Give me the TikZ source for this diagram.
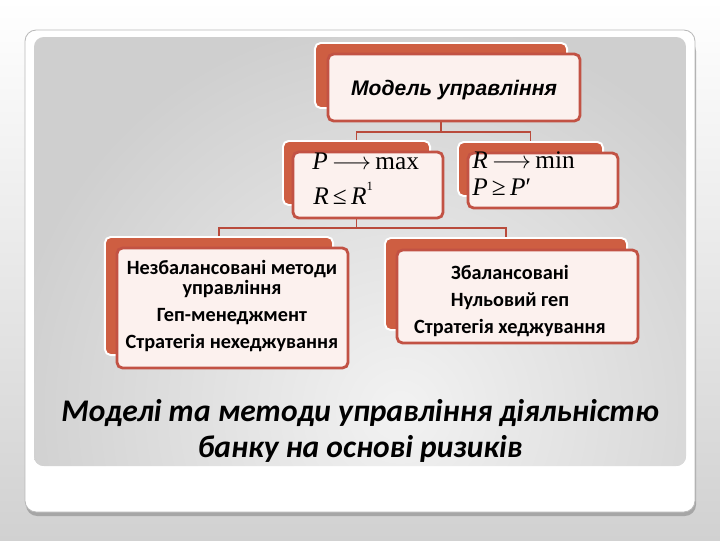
\documentclass[tikz,border=0pt]{standalone}
\usepackage{fontspec}
\setmainfont{Carlito}
\newfontfamily\arialf{Liberation Sans}
\newfontfamily\timesf{Liberation Serif}
\definecolor{backred}{RGB}{206,94,66}
\definecolor{frontfill}{RGB}{252,241,238}
\definecolor{frontdraw}{RGB}{194,82,68}
\definecolor{linkc}{RGB}{185,75,60}
\tikzset{
  backbox/.style={draw=white, line width=1.4pt, fill=backred, rounded corners=4pt, inner sep=0pt},
  frontbox/.style={draw=frontdraw, line width=2pt, fill=frontfill, rounded corners=4pt, inner sep=0pt},
  link/.style={draw=linkc, line width=1.4pt},
  boxtext/.style={font=\fontsize{14.4}{17}\selectfont\bfseries, inner sep=0pt, anchor=base},
  mathtext/.style={font=\timesf\fontsize{18}{18}\selectfont, inner sep=0pt, anchor=base west},
  toptext/.style={font=\arialf\fontsize{15}{17}\selectfont\bfseries\itshape, inner sep=0pt, anchor=base},
  titletext/.style={font=\fontsize{22.4}{26}\selectfont\bfseries\itshape, inner sep=0pt, anchor=base}
}
\newcommand{\myarrow}{\,\(\longrightarrow\)\,}
\begin{document}
\begin{tikzpicture}[x=0.025cm,y=-0.025cm]
\useasboundingbox (0,0) rectangle (720,540);
\shade[top color=white, bottom color=gray!36] (0,0) rectangle (720,540);
% card
\fill[gray!70, rounded corners=8pt] (26,40) rectangle (696,516);
\filldraw[fill=white, draw=gray!55, line width=0.6pt, rounded corners=8pt] (25,30) rectangle (695,512);
% panel
\begin{scope}
  \clip[rounded corners=7pt] (34,37) rectangle (686,466);
  \fill[gray!38] (34,37) rectangle (686,466);
  \shade[inner color=gray!10, outer color=gray!38] (400,410) circle (10cm);
\end{scope}
% back boxes
\node[backbox, minimum width=6.3cm,   minimum height=1.625cm] (tb)  at (441,75.5) {};
\node[backbox, minimum width=3.675cm, minimum height=1.6cm]   (lb)  at (356.5,173) {};
\node[backbox, minimum width=3.625cm, minimum height=1.35cm]  (rb)  at (530.5,169) {};
\node[backbox, minimum width=5.7cm,   minimum height=2.95cm]  (blb) at (219,296) {};
\node[backbox, minimum width=6.05cm,  minimum height=2.3cm]   (brb) at (506,284) {};
% connectors
\coordinate (j1) at (441,132);
\coordinate (j2) at (356.5,228);
\draw[link] (tb.south) -- (j1);
\draw[link] (lb.north) |- (j1) -| (rb.north);
\draw[link] (lb.south) -- (j2);
\draw[link] (blb.north) |- (j2) -| (brb.north);
% front boxes
\node[frontbox, minimum width=6.3cm,   minimum height=1.675cm] (tf)  at (454,87.5) {};
\node[frontbox, minimum width=3.75cm,  minimum height=1.65cm]  (lf)  at (368,185) {};
\node[frontbox, minimum width=3.75cm,  minimum height=1.375cm] (rf)  at (543,180.5) {};
\node[frontbox, minimum width=5.775cm, minimum height=3.0cm]   (blf) at (232.5,308) {};
\node[frontbox, minimum width=6.025cm, minimum height=2.325cm] (brf) at (517.5,296.5) {};
% texts
\node[toptext] (t0) at (454,95) {Модель управління};
\node[mathtext] (m1) at (312,169) {\textit{P}\myarrow max};
\node[mathtext] (m2) at (313,204) {\textit{R}\,≤\,\textit{R}\raisebox{0.55em}{\fontsize{9}{9}\selectfont 1}};
\node[mathtext] (m3) at (472,168) {\textit{R}\myarrow min};
\node[mathtext] (m4) at (472,195) {\textit{P}\,≥\,\textit{P}′};
\node[boxtext] (a1) at (232,274) {Незбалансовані методи};
\node[boxtext] (a2) at (232,294) {управління};
\node[boxtext] (a3) at (232,321) {Геп-менеджмент};
\node[boxtext] (a4) at (232,348) {Стратегія нехеджування};
\node[boxtext] (b1) at (510,279) {Збалансовані};
\node[boxtext] (b2) at (510,306) {Нульовий геп};
\node[boxtext] (b3) at (510,333) {Стратегія хеджування};
\node[titletext] (h1) at (360,421) {Моделі та методи управління діяльністю};
\node[titletext] (h2) at (360,457) {банку на основі ризиків};
\end{tikzpicture}
\end{document}
